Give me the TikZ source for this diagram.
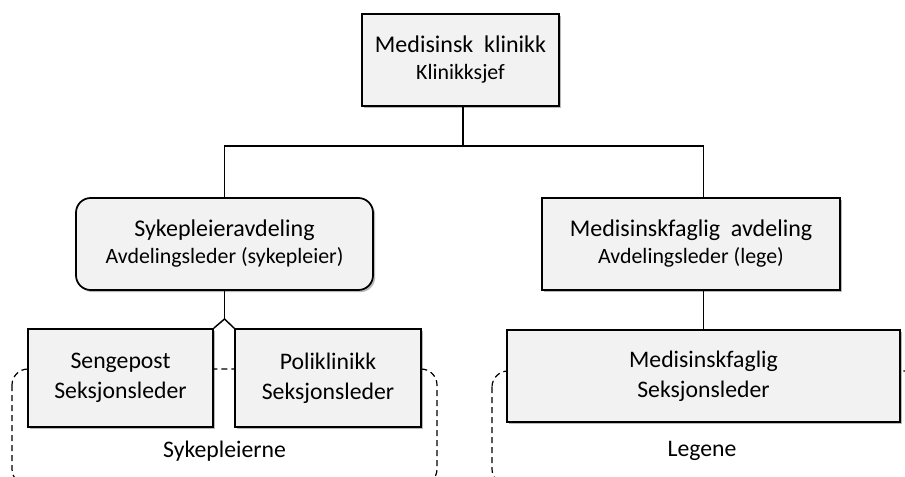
\documentclass[tikz,border=0pt]{standalone}
\usepackage{fontspec}
\setmainfont{Carlito}
\usetikzlibrary{shadows}
\definecolor{boxgray}{HTML}{F2F2F2}
\tikzset{
  orgbox/.style={draw=black, line width=1.3pt, fill=boxgray, align=center, inner sep=0pt,
    drop shadow={shadow xshift=1.6pt, shadow yshift=-1.6pt, fill=black, opacity=0.28}},
  headfont/.style={font=\fontsize{18}{20.25}\selectfont},
  lowfont/.style={font=\fontsize{17.8}{22.5}\selectfont},
  link/.style={draw=black, line width=1.1pt},
  groupline/.style={draw=black, line width=0.9pt, dash pattern=on 4.5pt off 3pt, rounded corners=12pt},
  grouplabel/.style={font=\fontsize{17.8}{20}\selectfont, anchor=base, inner sep=0pt}
}
\newcommand{\subline}[1]{{\fontsize{16.4}{20.25}\selectfont #1}}
\begin{document}
\begin{tikzpicture}[x=0.75pt, y=-0.75pt]
\useasboundingbox (0,0) rectangle (905,477);
\clip (0,0) rectangle (905,477);

% dashed group outlines behind the section boxes
\draw[groupline] (12,369) rectangle (437,485);
\draw[groupline] (492,371) rectangle (920,485);

% boxes
\node[orgbox, headfont, minimum width=147.75pt, minimum height=69pt] (top) at (460.5,60)
  {Medisinsk\ \ klinikk\\\subline{Klinikksjef}};
\node[orgbox, headfont, rounded corners=11pt, minimum width=222.75pt, minimum height=69pt] (nurse) at (224.5,244)
  {Sykepleieravdeling\\\subline{Avdelingsleder (sykepleier)}};
\node[orgbox, headfont, minimum width=223.5pt, minimum height=69pt] (med) at (691,244)
  {Medisinskfaglig\ \ avdeling\\\subline{Avdelingsleder (lege)}};
\node[orgbox, lowfont, minimum width=138.75pt, minimum height=73.5pt] (seng) at (120.5,378)
  {Sengepost\\Seksjonsleder};
\node[orgbox, lowfont, minimum width=139.5pt, minimum height=73.5pt] (poli) at (328,378)
  {Poliklinikk\\Seksjonsleder};
\node[orgbox, lowfont, minimum width=294.75pt, minimum height=69pt] (fag) at (703.5,376)
  {Medisinskfaglig\\Seksjonsleder};

% connectors
\coordinate (junction) at (463,146);
\coordinate (apex) at (224.5,319);
\draw[link] (top.south -| junction) -- (junction);
\draw[link] (nurse.north) |- (junction) -| (fag.north |- med.north);
\draw[link] (nurse.south) -- (apex);
\draw[link] (seng.north east) -- (apex) -- (poli.north west);
\draw[link] (fag.north |- med.south) -- (fag.north);

% group labels
\node[grouplabel] (nurses) at (224.5,457) {Sykepleierne};
\node[grouplabel] (doctors) at (702,456) {Legene};
\end{tikzpicture}
\end{document}
